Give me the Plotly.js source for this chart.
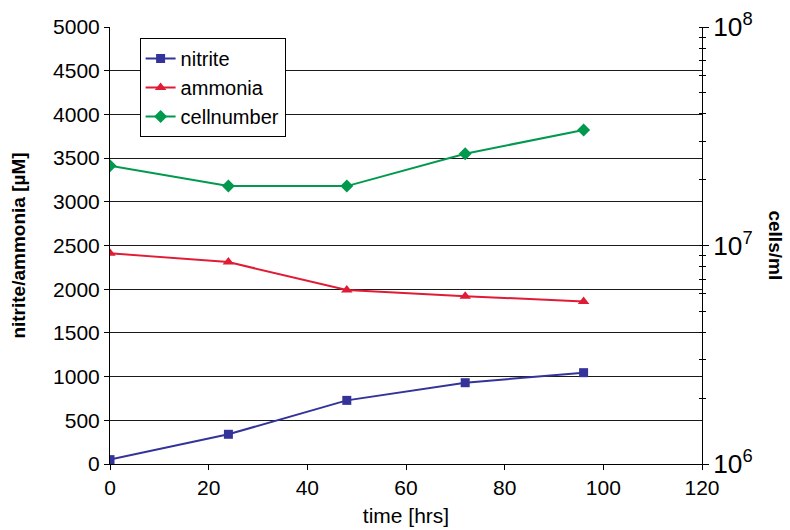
<!DOCTYPE html>
<html>
<head>
<meta charset="utf-8">
<script src="https://cdn.plot.ly/plotly-3.0.1.min.js"></script>
<style>html,body{margin:0;padding:0;background:#fff}#chart{width:790px;height:530px}</style>
</head>
<body>
<div id="chart"></div>
<script>
var timeHrs = [0, 24, 48, 72, 96];
var nitrite = [50, 340, 728, 930, 1045];
var ammonia = [2410, 2310, 1990, 1920, 1860];
var cellnumber = [2.32e7, 1.87e7, 1.87e7, 2.63e7, 3.38e7];
var seriesNames = ['nitrite', 'ammonia', 'cellnumber'];
var xTitle = 'time [hrs]';
var yTitle = 'nitrite/ammonia [µM]';
var y2Title = 'cells/ml';

var FONT = 'Liberation Sans, Arial, sans-serif';

var traces = [
  {x: timeHrs, y: nitrite, name: seriesNames[0], type: 'scatter', mode: 'lines+markers',
   line: {color: '#333399', width: 2}, marker: {symbol: 'square', size: 9, color: '#333399'}, yaxis: 'y'},
  {x: timeHrs, y: ammonia, name: seriesNames[1], type: 'scatter', mode: 'lines+markers',
   line: {color: '#e01b35', width: 2}, marker: {symbol: 'triangle-up', size: 10, color: '#e01b35'}, yaxis: 'y'},
  {x: timeHrs, y: cellnumber, name: seriesNames[2], type: 'scatter', mode: 'lines+markers',
   line: {color: '#00994e', width: 2}, marker: {symbol: 'diamond', size: 10, color: '#00994e'}, yaxis: 'y2'},
  {x: timeHrs, y: cellnumber, type: 'scatter', mode: 'markers', showlegend: false, hoverinfo: 'skip',
   marker: {opacity: 0}, yaxis: 'y3'}
];

var layout = {
  width: 790, height: 530,
  margin: {l: 110, r: 88, t: 27, b: 66},
  paper_bgcolor: '#fff', plot_bgcolor: '#fff',
  font: {family: FONT, size: 21, color: '#000'},
  showlegend: true,
  legend: {x: 0.05, y: 0.975, xanchor: 'left', yanchor: 'top', bgcolor: '#fff',
           bordercolor: '#000', borderwidth: 1, font: {family: FONT, size: 20, color: '#000'},
           tracegroupgap: 0},
  xaxis: {range: [0, 120], dtick: 20, tick0: 0, showgrid: false, zeroline: false,
          showline: true, linecolor: '#000', linewidth: 1, ticks: 'outside', ticklen: 5,
          tickcolor: '#000', tickfont: {size: 21}, fixedrange: true,
          title: {text: xTitle, font: {size: 21}, standoff: 10}},
  yaxis: {range: [0, 5000], dtick: 500, tick0: 0, showgrid: true, gridcolor: '#1a1a1a', gridwidth: 1,
          zeroline: false, showline: true, linecolor: '#000', linewidth: 1, ticks: 'outside',
          ticklen: 5, tickcolor: '#000', tickfont: {size: 21},
          title: {text: yTitle, font: {size: 19, weight: 'bold'}, standoff: 22}},
  yaxis2: {type: 'log', range: [6, 8], dtick: 1, overlaying: 'y', side: 'right', showgrid: false,
           zeroline: false, showline: true, linecolor: '#000', linewidth: 1, ticks: 'outside',
           ticklen: 6, tickcolor: '#000', exponentformat: 'power', tickfont: {size: 21},
           minor: {ticks: 'inside', ticklen: 3, tickcolor: '#000', dtick: 'D1', showgrid: false}},
  yaxis3: {type: 'log', range: [6, 8], dtick: 1, overlaying: 'y', side: 'right', showgrid: false,
           zeroline: false, showline: false, ticks: '', showticklabels: false,
           minor: {ticks: 'outside', ticklen: 3, tickcolor: '#000', dtick: 'D1', showgrid: false}},
  annotations: [
    {text: '<b>' + y2Title + '</b>', xref: 'paper', yref: 'paper', x: 1.1234, y: 0.5,
     xanchor: 'center', yanchor: 'middle', textangle: 90, showarrow: false,
     font: {family: FONT, size: 19, color: '#000'}}
  ]
};

Plotly.newPlot('chart', traces, layout, {displayModeBar: false, staticPlot: true});
</script>
</body>
</html>
